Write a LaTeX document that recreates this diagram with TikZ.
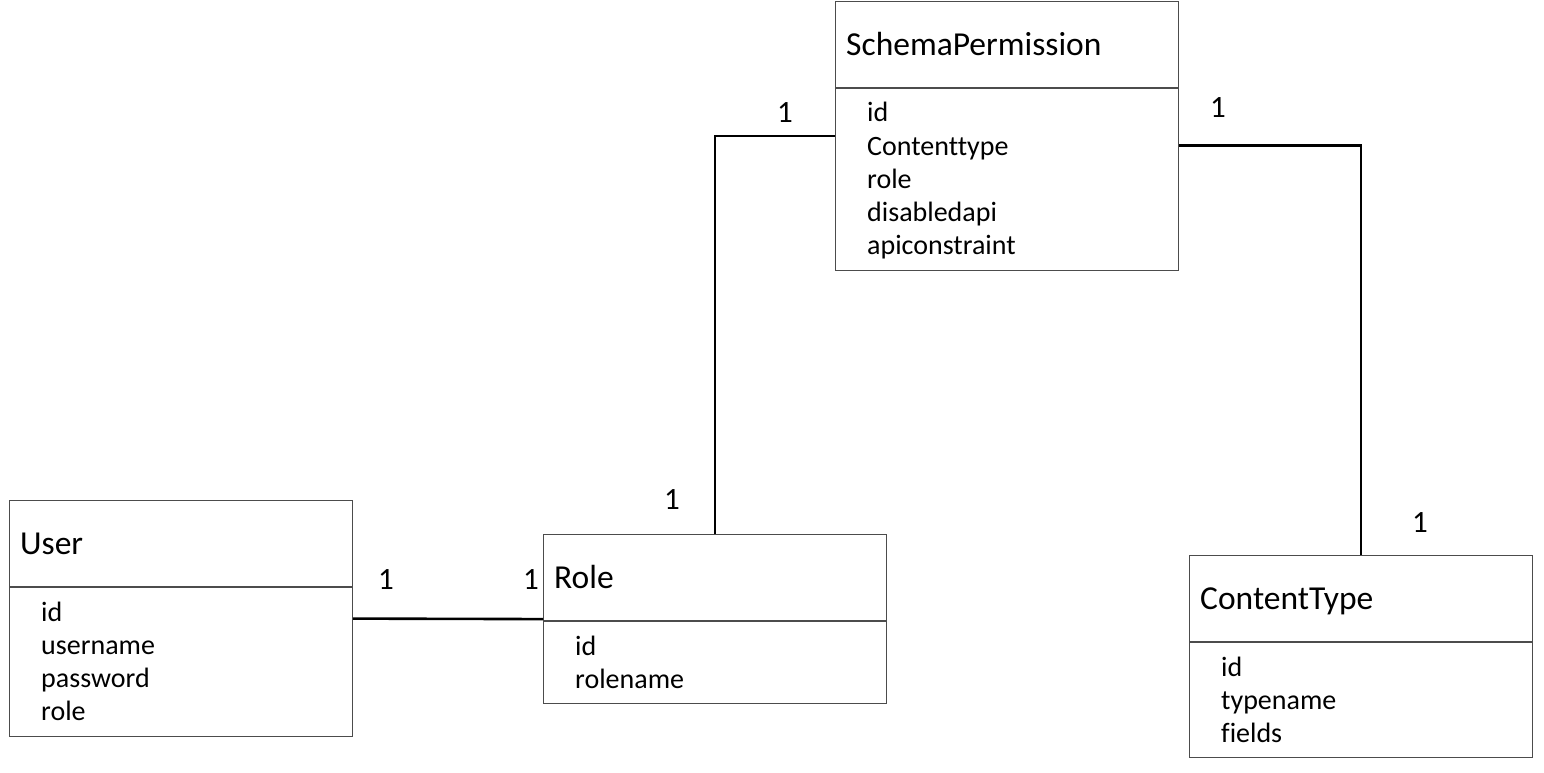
\documentclass[tikz,border=0pt]{standalone}
\usepackage{fontspec}
\setmainfont[Ligatures=NoCommon]{Carlito}
\usepackage{tikz}
\usetikzlibrary{positioning}
\usetikzlibrary{calc}
\usepackage{xcolor}

\tikzset{
    entity/.style={draw=black!70, line width=1.2pt, minimum width=343pt, anchor=north west, inner sep=0pt},
    title/.style={anchor=base west, inner sep=0pt, font=\fontsize{33.5}{40}\selectfont},
    attr/.style={anchor=base west, inner sep=0pt, font=\fontsize{28}{33}\selectfont},
    mult/.style={inner sep=0pt, font=\fontsize{31}{36}\selectfont},
    link/.style={draw=black, line width=2.6pt}
}

\begin{document}
\begin{tikzpicture}[x=1pt, y=-1pt]
        \useasboundingbox (0,0) rectangle (1544,773);
        % entities
        \node[entity, minimum height=236pt] (user) at (9,500) {};
        \node[entity, minimum height=169pt] (role) at (543,534) {};
        \node[entity, minimum height=269pt] (schema) at (835,1) {};
        \node[entity, minimum height=202pt] (ctype) at (1189,555) {};
        \foreach \e/\t in {user/User, role/Role, schema/SchemaPermission, ctype/ContentType}
        {
            \draw[draw=black!70, line width=1.2pt] ([yshift=-87pt]\e.north west) -- ([yshift=-87pt]\e.north east);
            \node[title] (\e-title) at ([xshift=11pt, yshift=-54.5pt]\e.north west) {\t};
        }
        % attributes
        \foreach \i/\a in {0/id, 1/username, 2/password, 3/role}
            \node[attr] (user-\i) at ([xshift=32pt, yshift=-121pt-33pt*\i]user.north west) {\a};
        \foreach \i/\a in {0/id, 1/rolename}
            \node[attr] (role-\i) at ([xshift=32pt, yshift=-121pt-33pt*\i]role.north west) {\a};
        \foreach \i/\a in {0/id, 1/Contenttype, 2/role, 3/disabledapi, 4/apiconstraint}
            \node[attr] (schema-\i) at ([xshift=32pt, yshift=-121pt-33pt*\i]schema.north west) {\a};
        \foreach \i/\a in {0/id, 1/typename, 2/fields}
            \node[attr] (ctype-\i) at ([xshift=32pt, yshift=-121pt-33pt*\i]ctype.north west) {\a};
        % links
        \draw[link] (user.east) -- (role.west);
        \draw[link] (role.north) |- (schema.west);
        \draw[link] ([yshift=-9.5pt]schema.east) -| (ctype.north);
        % multiplicities
        \node[mult] (m-user) at (386,580) {1};
        \node[mult] (m-role-u) at (531,580) {1};
        \node[mult] (m-role-s) at (672,500) {1};
        \node[mult] (m-schema-r) at (785,113) {1};
        \node[mult] (m-schema-c) at (1218,108) {1};
        \node[mult] (m-ctype) at (1420,523) {1};
    \end{tikzpicture}
\end{document}
